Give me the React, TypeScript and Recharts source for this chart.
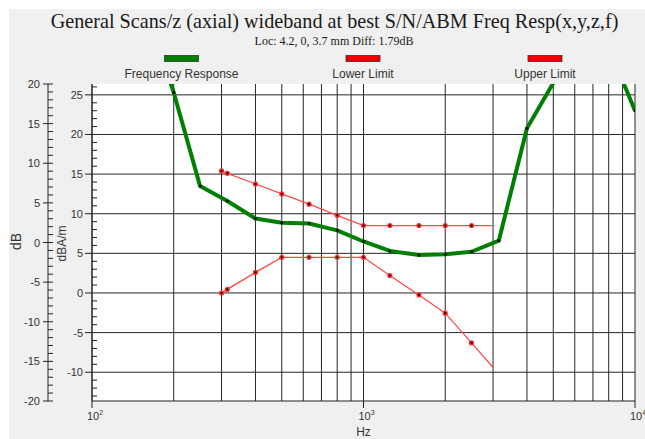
import React from 'react';
import { LineChart, Line, XAxis, YAxis, CartesianGrid } from 'recharts';

const TITLE = 'General Scans/z (axial) wideband at best S/N/ABM Freq Resp(x,y,z,f)';
const SUBTITLE = 'Loc: 4.2, 0, 3.7 mm Diff: 1.79dB';

const responseFreqs = [180, 200, 250, 315, 400, 500, 630, 800, 1000, 1250, 1600, 2000, 2500, 3150, 4000, 5000, 6300, 8000, 10000];
const responseValues = [30, 25.3, 13.5, 11.6, 9.4, 8.85, 8.77, 7.9, 6.5, 5.3, 4.8, 4.9, 5.2, 6.6, 20.8, 26.5, 33, 31, 23.0];

const limitFreqs = [300, 315, 400, 500, 630, 800, 1000, 1250, 1600, 2000, 2500, 3000];
const lowerValues = [0, 0.45, 2.6, 4.5, 4.5, 4.5, 4.5, 2.2, -0.25, -2.55, -6.3, -9.4];
const upperValues = [15.4, 15.1, 13.75, 12.5, 11.2, 9.8, 8.5, 8.5, 8.5, 8.5, 8.5, 8.5];

const legendNames = ['Frequency Response', 'Lower Limit', 'Upper Limit'];
const legendColors = ['#008000', '#ee0000', '#ee0000'];

const xGridTicks = [100, 200, 300, 400, 500, 600, 700, 800, 900, 1000, 2000, 3000, 4000, 5000, 6000, 7000, 8000, 9000, 10000];
const xLabelTicks = [100, 1000, 10000];
const xDomain = [100, 10000];

const dbaDomain = [-13.63, 26.37];
const dbaLabelTicks = [25, 20, 15, 10, 5, 0, -5, -10];
const dbaMinorTicks = Array.from({ length: 40 }, (_, i) => i - 13);

const dbDomain = [-20, 20];
const dbLabelTicks = [20, 15, 10, 5, 0, -5, -10, -15, -20];
const dbMinorTicks = Array.from({ length: 41 }, (_, i) => i - 20);

const responseData = responseFreqs.map((f, i) => ({ f, v: responseValues[i] }));
const lowerData = limitFreqs.map((f, i) => ({ f, v: lowerValues[i] }));
const upperData = limitFreqs.map((f, i) => ({ f, v: upperValues[i] }));

const AXIS = '#222';
const TEXT = '#333';
const FONT = '"Liberation Sans", Arial, sans-serif';

const makeYTick = (labels: number[], outer: boolean) => (props: any) => {
  const { x, y, payload } = props;
  const v = payload.value;
  const major = labels.includes(v);
  return (
    <g>
      {major ? (
        <line x1={outer ? x - 5 : x - 7} x2={outer ? x + 5 : x} y1={y} y2={y} stroke={AXIS} />
      ) : (
        <line x1={x} x2={x + 5} y1={y} y2={y} stroke={AXIS} />
      )}
      {major && (
        <text x={outer ? x - 8 : x - 9} y={y} textAnchor="end" dominantBaseline="central" fontSize={11} fill={TEXT} fontFamily={FONT}>
          {v}
        </text>
      )}
    </g>
  );
};

const XTick = (props: any) => {
  const { x, y, payload } = props;
  const v = payload.value;
  if (!xLabelTicks.includes(v)) return <g />;
  const exp = Math.round(Math.log10(v));
  return (
    <g>
      <line x1={x} x2={x} y1={y} y2={y + 7} stroke={AXIS} />
      <text x={x - 5} y={y + 19} fontSize={11} fill={TEXT} fontFamily={FONT}>
        10
        <tspan dy={-5} fontSize={7}>{exp}</tspan>
      </text>
    </g>
  );
};

const redDot = (name: string, last: number) => (props: any) => {
  const { cx, cy, index } = props;
  if (index === last || cx == null || cy == null) return <g key={`${name}-${index}`} />;
  return (
    <g key={`${name}-${index}`}>
      <circle cx={cx} cy={cy} r={2.6} fill="#ff2a2a" />
      <circle cx={cx} cy={cy} r={1.1} fill="#000" />
    </g>
  );
};

const greenDot = (props: any) => {
  const { cx, cy, index } = props;
  if (cx == null || cy == null) return <g key={`g-${index}`} />;
  return <circle key={`g-${index}`} cx={cx} cy={cy} r={1.5} fill="#000" />;
};

const scaleOf = (axis: any) => {
  const s = axis && axis.scale;
  if (typeof s === 'function') return (v: number) => s(v);
  if (s && typeof s.map === 'function') return (v: number) => s.map(v);
  return null;
};

const horizontalGen = ({ yAxis }: any) => {
  const s = scaleOf(yAxis);
  return s ? dbaLabelTicks.map((v) => s(v)) : [];
};

const legendCenters = [181.5, 363, 545];

export default function App() {
  return (
    <div style={{ position: 'absolute', left: 0, top: 0, width: 645, height: 439, background: '#fff', overflow: 'hidden' }}>
      <div style={{ position: 'absolute', left: 9, top: 9, width: 636, height: 430, background: '#f0f0f0' }} />
      <div style={{ position: 'absolute', left: 0, top: 0 }}>
        <LineChart width={645} height={439} margin={{ top: 84, right: 10, bottom: 0, left: 0 }}>
          <CartesianGrid
            xAxisId="bottom"
            yAxisId="inner"
            stroke="#262626"
            fill="#ffffff"
            fillOpacity={1}
            horizontalCoordinatesGenerator={horizontalGen}
          />
          <XAxis
            xAxisId="bottom"
            dataKey="f"
            type="number"
            scale="log"
            domain={xDomain}
            ticks={xGridTicks}
            allowDataOverflow
            height={38}
            tickSize={0}
            tickMargin={0}
            axisLine={{ stroke: AXIS }}
            tickLine={false}
            tick={(p: any) => <XTick {...p} />}
            interval={0}
            label={{ value: 'Hz', position: 'insideBottom', offset: 3, fontSize: 12, fill: TEXT, fontFamily: FONT }}
          />
          <XAxis
            xAxisId="top"
            orientation="top"
            dataKey="f"
            type="number"
            scale="log"
            domain={xDomain}
            allowDataOverflow
            height={0}
            tick={false}
            tickLine={false}
            axisLine={{ stroke: AXIS }}
          />
          <YAxis
            yAxisId="outer"
            type="number"
            domain={dbDomain}
            allowDataOverflow
            ticks={dbMinorTicks}
            interval={0}
            width={48}
            tickSize={0}
            tickMargin={0}
            tickLine={false}
            axisLine={{ stroke: AXIS }}
            tick={makeYTick(dbLabelTicks, true)}
            label={{
              content: (p: any) => {
                const vb = p.viewBox;
                const cx = vb.x + 16;
                const cy = vb.y + vb.height / 2 - 1;
                return (
                  <text x={cx} y={cy} transform={`rotate(-90 ${cx} ${cy})`} textAnchor="middle" dominantBaseline="central" fontSize={14} fill={TEXT} fontFamily={FONT}>
                    dB
                  </text>
                );
              },
            }}
          />
          <YAxis
            yAxisId="inner"
            type="number"
            domain={dbaDomain}
            allowDataOverflow
            ticks={dbaMinorTicks}
            interval={0}
            width={44}
            tickSize={0}
            tickMargin={0}
            tickLine={false}
            axisLine={{ stroke: AXIS }}
            tick={makeYTick(dbaLabelTicks, false)}
            label={{
              content: (p: any) => {
                const vb = p.viewBox;
                const cx = vb.x + 13.5;
                const cy = vb.y + vb.height / 2 + 1;
                return (
                  <text x={cx} y={cy} transform={`rotate(-90 ${cx} ${cy})`} textAnchor="middle" dominantBaseline="central" fontSize={12} fill={TEXT} fontFamily={FONT}>
                    dBA/m
                  </text>
                );
              },
            }}
          />
          <YAxis
            yAxisId="right"
            orientation="right"
            type="number"
            domain={dbaDomain}
            allowDataOverflow
            ticks={dbaLabelTicks}
            width={0}
            tick={false}
            tickLine={false}
            axisLine={{ stroke: AXIS }}
          />
          <Line
            data={upperData}
            xAxisId="bottom"
            yAxisId="inner"
            dataKey="v"
            stroke="#ff4a4a"
            strokeWidth={1.3}
            dot={redDot('u', upperData.length - 1)}
            activeDot={false}
            isAnimationActive={false}
          />
          <Line
            data={lowerData}
            xAxisId="bottom"
            yAxisId="inner"
            dataKey="v"
            stroke="#ff4a4a"
            strokeWidth={1.3}
            dot={redDot('l', lowerData.length - 1)}
            activeDot={false}
            isAnimationActive={false}
          />
          <Line
            data={responseData}
            xAxisId="bottom"
            yAxisId="inner"
            dataKey="v"
            stroke="#008000"
            strokeWidth={4}
            strokeLinejoin="round"
            dot={greenDot}
            activeDot={false}
            isAnimationActive={false}
          />
        </LineChart>
      </div>
      <svg width={645} height={439} style={{ position: 'absolute', left: 0, top: 0, pointerEvents: 'none' }}>
        <text x={334.5} y={27.5} textAnchor="middle" fontSize={20.2} fill="#1a1a1a" fontFamily='"Liberation Serif", "Times New Roman", serif'>
          {TITLE}
        </text>
        <text x={334} y={44.5} textAnchor="middle" fontSize={12} fill="#1a1a1a" fontFamily='"Liberation Serif", "Times New Roman", serif'>
          {SUBTITLE}
        </text>
        {legendNames.map((name, i) => (
          <g key={name}>
            <rect x={legendCenters[i] - 17} y={55.5} width={34} height={6} fill={legendColors[i]} stroke="#333" strokeWidth={0.8} />
            <text x={legendCenters[i]} y={77.5} textAnchor="middle" fontSize={12} fill={TEXT} fontFamily={FONT}>
              {name}
            </text>
          </g>
        ))}
      </svg>
    </div>
  );
}
